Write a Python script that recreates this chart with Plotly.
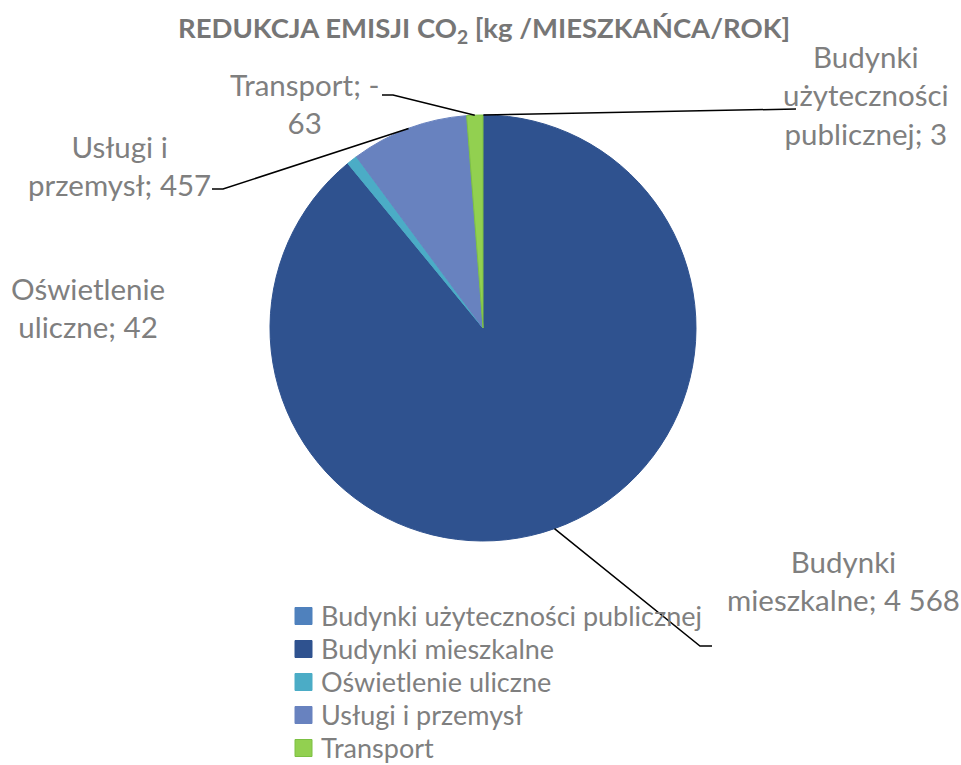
import math
import plotly.graph_objects as go

W, H = 961, 765
OFF = 0  # page body margin is removed below (post_script)

title_text = "REDUKCJA EMISJI CO<sub>2</sub> [kg /MIESZKAŃCA/ROK]"
categories = ["Budynki użyteczności publicznej", "Budynki mieszkalne",
              "Oświetlenie uliczne", "Usługi i przemysł", "Transport"]
values = [3, 4568, 42, 457, -63]
colors = ["#4F81BD", "#2F528F", "#4BACC6", "#6882BF", "#92D050"]
edge_colors = ["#4F81BD", "#2F528F", "#4BACC6", "#6882BF", "#7CC043"]

# wrapped label text (as in the reference)
label_lines = [
    ["Budynki", "użyteczności", "publicznej; {v}"],
    ["Budynki", "mieszkalne; {v}"],
    ["Oświetlenie", "uliczne; {v}"],
    ["Usługi i", "przemysł; {v}"],
    ["Transport; -", "{a}"],
]


# screen pixel -> paper coordinates
def px(x):
    return (x - OFF) / W


def py(y):
    return 1 - (y - OFF) / H


CX, CY, R = 483, 328, 213
FONT = "Lato"
GREY = "#7F7F7F"

sizes = [abs(v) for v in values]
total = sum(sizes)

fig = go.Figure(go.Pie(
    labels=categories,
    values=sizes,
    sort=False,
    direction="clockwise",
    rotation=0,
    marker=dict(colors=colors, line=dict(color=edge_colors, width=1)),
    textinfo="none",
    hoverinfo="label+value",
    showlegend=False,
    domain=dict(x=[px(CX - R), px(CX + R)], y=[py(CY + R), py(CY - R)]),
))


def fmt(v):
    return f"{v:,}".replace(",", " ")


# label placement (centre of label block) and leader-line elbows
label_pos = [(866, 95), (843, 580), (88, 307), (119, 165), (304, 104)]
elbows = [((796, 109), (796, 109)),
          ((700, 646), (712, 646)),
          None,
          ((223, 189), (212, 189)),
          ((393, 95), (382, 95))]

annotations = []
shapes = []
cum = 0
for i, (cat, v) in enumerate(zip(categories, values)):
    frac_mid = (cum + sizes[i] / 2) / total
    cum += sizes[i]
    ang = 2 * math.pi * frac_mid
    sx = CX + R * math.sin(ang)
    sy = CY - R * math.cos(ang)
    txt = "<br>".join(l.format(v=fmt(v), a=fmt(abs(v))) for l in label_lines[i])
    lx, ly = label_pos[i]
    annotations.append(dict(
        x=px(lx), y=py(ly), xref="paper", yref="paper", text=txt,
        showarrow=False, xanchor="center", yanchor="middle", align="center",
        font=dict(family=FONT, size=29.5, color=GREY)))
    if elbows[i] is not None:
        (ex, ey), (tx, ty) = elbows[i]
        path = f"M {px(sx)} {py(sy)} L {px(ex)} {py(ey)} L {px(tx)} {py(ty)}"
        shapes.append(dict(type="path", xref="paper", yref="paper", path=path,
                           line=dict(color="black", width=1.5)))

# legend (drawn as squares + texts, positioned like the reference)
LEG_X, LEG_Y0, LEG_DY, SQ = 295, 616, 33, 17
for i, cat in enumerate(categories):
    yc = LEG_Y0 + i * LEG_DY
    shapes.append(dict(type="rect", xref="paper", yref="paper",
                       x0=px(LEG_X), x1=px(LEG_X + SQ),
                       y0=py(yc + SQ / 2), y1=py(yc - SQ / 2),
                       fillcolor=colors[i], line=dict(color=edge_colors[i], width=1)))
    annotations.append(dict(
        x=px(LEG_X + 24), y=py(yc - 1), xref="paper", yref="paper", text=cat,
        showarrow=False, xanchor="left", yanchor="middle",
        font=dict(family=FONT, size=27, color=GREY)))

annotations.append(dict(
    x=px(484), y=py(30), xref="paper", yref="paper", text="<b>" + title_text + "</b>",
    showarrow=False, xanchor="center", yanchor="middle",
    font=dict(family=FONT, size=27.5, color="#767676")))

fig.update_layout(
    width=W, height=H,
    margin=dict(l=0, r=0, t=0, b=0),
    paper_bgcolor="white", plot_bgcolor="white",
    showlegend=False,
    annotations=annotations,
    shapes=shapes,
)

fig.write_html(
    "out.html",
    config={"displayModeBar": False},
    post_script="document.body.style.margin='0';document.body.style.overflow='hidden';",
)
